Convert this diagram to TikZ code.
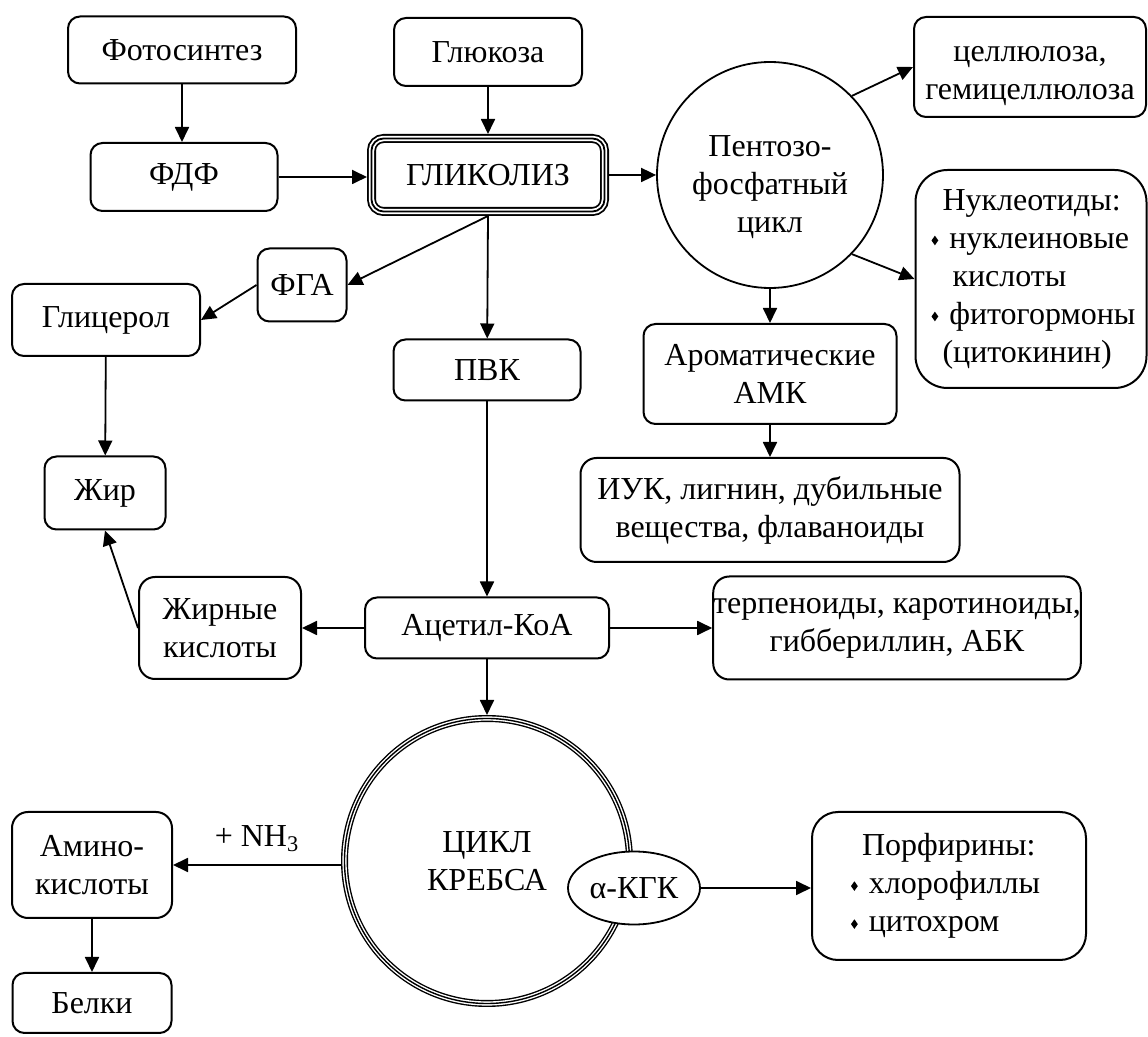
\documentclass[tikz,border=0pt]{standalone}
\usepackage{fontspec}
\setmainfont{Liberation Serif}
\usetikzlibrary{arrows.meta}
\usetikzlibrary{shapes.geometric}
\newcommand{\bul}{\tikz[baseline=-3.8pt]\path[fill=black,draw=none,sharp corners] (0,2.4pt)--(1.7pt,0)--(0,-2.4pt)--(-1.7pt,0)--cycle;}
\begin{document}
\begin{tikzpicture}[x=0.5pt,y=-0.5pt,
    every node/.style={font=\fontsize{16}{19}\selectfont},
    box/.style={draw,line width=1pt,rounded corners=6pt,align=center,inner sep=0pt},
    triple/.style={draw,line width=#1,outer sep=2.5*#1,align=center,inner sep=0pt,
        preaction={draw,line width=5*#1},preaction={draw=white,line width=3*#1}},
    link/.style={line width=0.9pt,-{Triangle[length=7.5pt,width=7pt]}}]
    \useasboundingbox (0,0) rectangle (1148,1037);
    \node[box,minimum width=114pt,minimum height=33.5pt] (foto) at (182,50) {Фотосинтез};
    \node[box,minimum width=94pt,minimum height=34pt] (glu) at (488,52) {Глюкоза};
    \node[box,minimum width=116pt,minimum height=50pt] (cel) at (1030,67) {\rule{0pt}{17pt}целлюлоза,\\гемицеллюлоза};
    \node[box,minimum width=93.5pt,minimum height=34pt] (fdf) at (184,177) {ФДФ};
    \node[triple=0.9pt,rounded corners=6pt,minimum width=116.5pt,minimum height=36.5pt] (gl) at (488,175) {ГЛИКОЛИЗ};
    \node[circle,draw,line width=0.9pt,minimum size=113pt,inner sep=0pt,
        label={[align=center,yshift=-6pt]center:Пентозо-\\фосфатный\\цикл}] (pf) at (770,175) {};
    \node[box,rounded corners=16pt,text width=115.5pt,minimum height=109pt,align=left] (nuc) at (1031,279)
        {\hspace*{13.5pt}Нуклеотиды:\\\hspace*{8pt}\bul\hspace{5.5pt}нуклеиновые\\\hspace*{18.5pt}кислоты\\\hspace*{8pt}\bul\hspace{5.5pt}фитогормоны\\\hspace*{13.5pt}(цитокинин)};
    \node[box,minimum width=44.5pt,minimum height=36.5pt] (fga) at (302,285) {ФГА};
    \node[box,minimum width=94pt,minimum height=36pt] (glyc) at (106,320) {Глицерол};
    \node[box,minimum width=93.5pt,minimum height=30.5pt] (pvk) at (487,370) {ПВК};
    \node[box,minimum width=126.5pt,minimum height=50pt] (arom) at (770,374) {Ароматические\\АМК};
    \node[box,rounded corners=8pt,minimum width=189.5pt,minimum height=52pt] (iuk) at (770,510) {ИУК, лигнин, дубильные\\вещества, флаваноиды};
    \node[box,minimum width=60.5pt,minimum height=36.5pt] (zhir) at (105,493) {Жир};
    \node[box,rounded corners=8pt,minimum width=81pt,minimum height=51pt] (zk) at (220,628) {Жирные\\кислоты};
    \node[box,minimum width=122pt,minimum height=30.5pt] (acet) at (487,628) {Ацетил-КоА};
    \node[box,rounded corners=8pt,minimum width=165pt,minimum height=51.5pt] (terp) at (897,628) {терпеноиды, каротиноиды,\\гиббериллин, АБК};
    \node[circle,triple=0.7pt,minimum size=142.5pt] (krebs) at (487,861) {ЦИКЛ\\КРЕБСА};
    \node[ellipse,draw,fill=white,line width=0.9pt,minimum width=66pt,minimum height=36.5pt,inner sep=0pt] (akg) at (634,888) {α-КГК};
    \node[box,rounded corners=13pt,text width=137pt,minimum height=74pt,align=left] (porf) at (949,886)
        {\hspace*{25pt}Порфирины:\\\hspace*{19.5pt}\bul\hspace{5.5pt}хлорофиллы\\\hspace*{19.5pt}\bul\hspace{5.5pt}цитохром};
    \node[box,rounded corners=8pt,minimum width=80pt,minimum height=53pt] (amino) at (92,865) {Амино-\\кислоты};
    \node[box,minimum width=79.5pt,minimum height=30pt] (belki) at (92,1003) {Белки};
    \draw[link] (foto.south) -- (foto.south |- fdf.north);
    \draw[link] (glu) -- (gl);
    \draw[link] (fdf.east) -- (fdf.east -| gl.west);
    \draw[link] (gl) -- (pf);
    \draw[link] (pf.44) -- (cel.west);
    \draw[link] (pf.-44) -- (nuc.west);
    \draw[link] (pf) -- (arom);
    \draw[link] (arom) -- (iuk);
    \draw[link] (gl.south) -- (fga.east);
    \draw[link] (gl.south) -- (pvk);
    \draw[link] (fga.west) -- (glyc.east);
    \draw[link] (glyc) -- (zhir);
    \draw[link] (pvk) -- (acet);
    \draw[link] (acet) -- (zk);
    \draw[link] (zk.west) -- (zhir.south);
    \draw[link] (acet) -- (terp);
    \draw[link] (acet) -- (krebs);
    \draw[link] (amino.east -| krebs.west) -- node[above=3pt] (nh) {+ NH\textsubscript{3}} (amino.east);
    \draw[link] (akg.east) -- (akg.east -| porf.west);
    \draw[link] (amino) -- (belki);
\end{tikzpicture}
\end{document}
